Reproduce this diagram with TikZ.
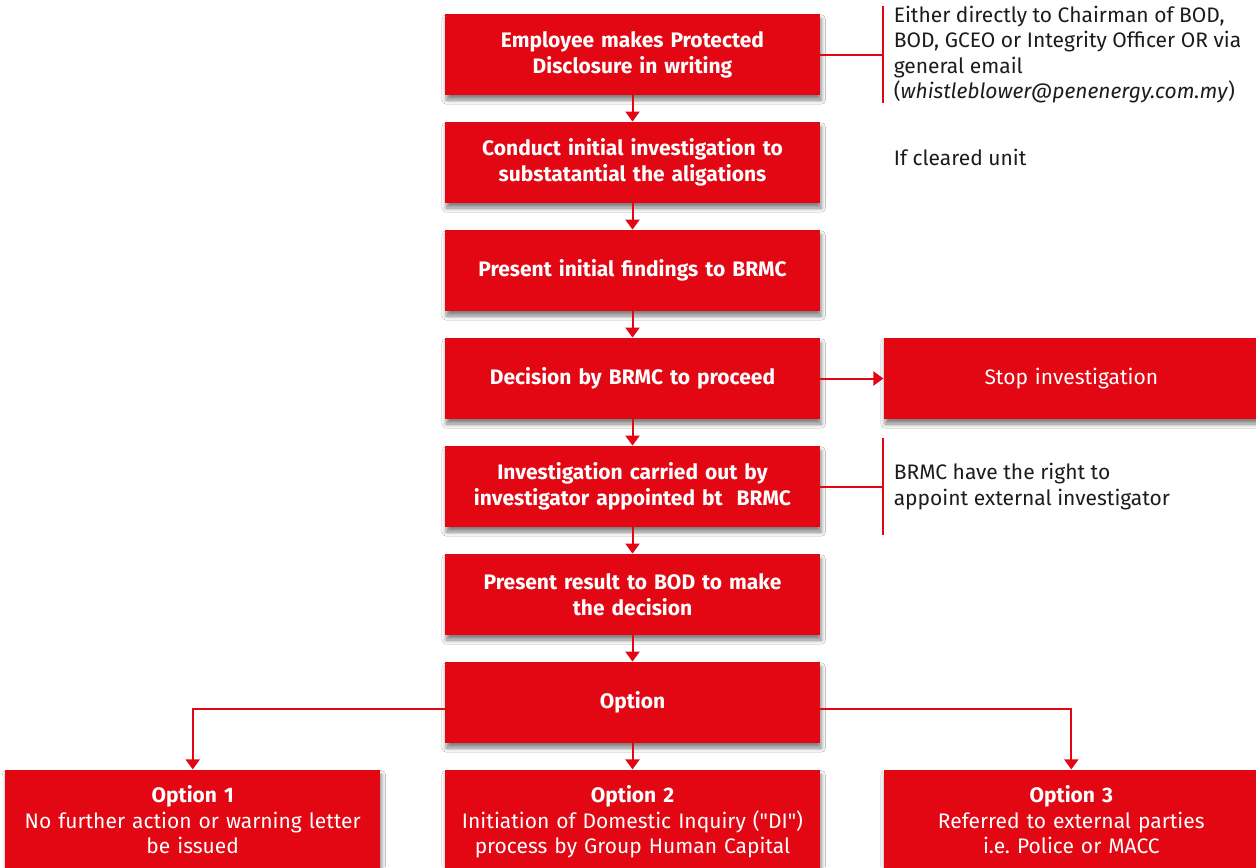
\documentclass[tikz,border=0pt]{standalone}
\usepackage{fontspec}
\setmainfont{Fira Sans}
\usepackage{xcolor}
\usetikzlibrary{arrows.meta,positioning,shadows.blur}

\definecolor{penred}{RGB}{227,6,19}
\definecolor{notegray}{RGB}{28,28,28}

\begin{document}
\begin{tikzpicture}[x=0.5pt, y=-0.5pt, font=\fontsize{10.5}{12.6}\selectfont, node distance=13.1pt, every node/.style={inner sep=0pt}]
        \tikzset{
            box/.style={fill=penred, text=white, align=center, text width=187.5pt, minimum height=40.5pt,
                font=\fontsize{10.5}{13}\selectfont\bfseries,
                blur shadow={shadow xshift=0.6pt, shadow yshift=-2.5pt, shadow blur steps=6, shadow opacity=50}},
            optbox/.style={box, minimum height=50pt, text height=9.5pt, text depth=26.5pt, font=\fontsize{10.5}{12.6}\selectfont},
            note/.style={text=notegray, align=left, minimum height=48pt, inner xsep=5pt},
            arr/.style={draw=penred, line width=1pt, -{Triangle[width=7pt, length=5pt]}},
            link/.style={draw=penred, line width=1pt}
        }

        \path[use as bounding box, fill=white] (0,0) rectangle (1256,867);

        \node[box] (disclose) at (632.5,54.5) {Employee makes Protected\\Disclosure in writing};
        \node[box, below=of disclose] (examine) {Conduct initial investigation to\\substatantial the aligations};
        \node[box, below=of examine] (findings) {Present initial findings to BRMC};
        \node[box, below=of findings] (decide) {Decision by BRMC to proceed};
        \node[box, below=of decide] (probe) {Investigation carried out by\\investigator appointed bt~~BRMC};
        \node[box, below=of probe] (result) {Present result to BOD to make\\the decision};
        \node[box, below=of result] (option) {Option};

        \node[box, right=31.5pt of decide, font=\fontsize{10.5}{13}\selectfont] (stop) {Stop investigation};

        \node[optbox, below=13pt of option] (opttwo) {\textbf{Option 2}\\Initiation of Domestic Inquiry (\textquotedbl DI\textquotedbl)\\process by Group Human Capital};
        \node[optbox, left=32pt of opttwo] (optone) {\textbf{Option 1}\\No further action or warning letter\\be issued};
        \node[optbox, right=31.5pt of opttwo] (optthree) {\textbf{Option 3}\\Referred to external parties\\i.e.\ Police or MACC};

        % side notes with their brackets
        \node[note, right=31.5pt of disclose] (channels) {Either directly to Chairman of BOD,\\BOD, GCEO or Integrity Officer OR via\\general email\\(\textit{whistleblower@penenergy.com.my})};
        \node[note, right=31.5pt of examine, yshift=2.75pt, minimum height=0pt] (cleared) {If cleared unit};
        \node[note, right=31.5pt of probe] (external) {BRMC have the right to\\appoint external investigator};

        \draw[link] (channels.north west) -- (channels.south west);
        \draw[link] (disclose.east) -- (disclose.east -| channels.west);
        \draw[link] (external.north west) -- (external.south west);
        \draw[link] (probe.east) -- (probe.east -| external.west);

        \draw[arr] (disclose) -- (examine);
        \draw[arr] (examine) -- (findings);
        \draw[arr] (findings) -- (decide);
        \draw[arr] (decide) -- (probe);
        \draw[arr] (probe) -- (result);
        \draw[arr] (result) -- (option);
        \draw[arr] (decide) -- (stop);

        \draw[arr] (option) -- (opttwo);
        \draw[arr] ([yshift=-3pt]option.west) -| (optone.north);
        \draw[arr] ([yshift=-3pt]option.east) -| (optthree.north);
    \end{tikzpicture}
\end{document}
